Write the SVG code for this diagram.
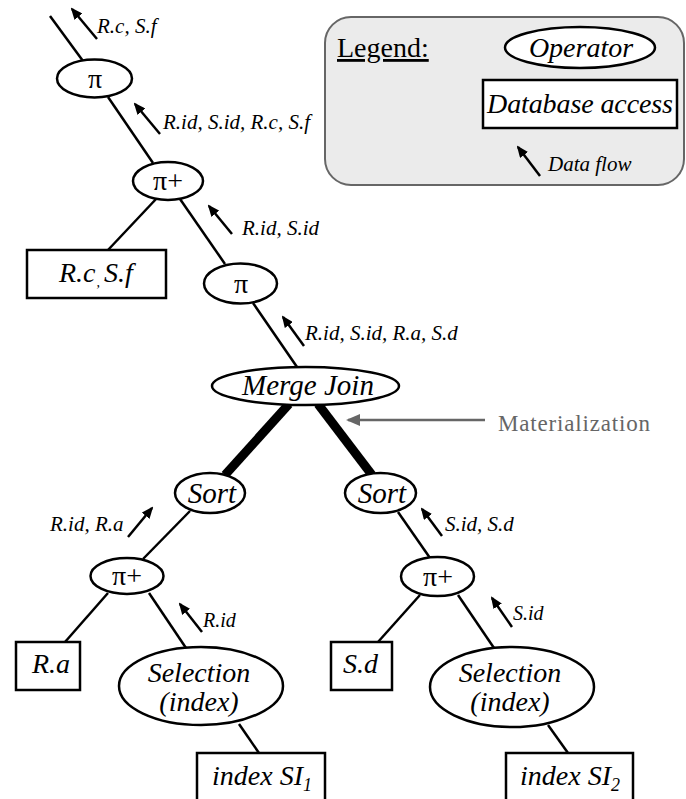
<svg xmlns="http://www.w3.org/2000/svg" width="686" height="799" viewBox="0 0 686 799" font-family="'Liberation Serif', 'DejaVu Serif', serif">
  <style>
    .op { fill: #fff; stroke: #000; stroke-width: 2.5; }
    .db { fill: #fff; stroke: #000; stroke-width: 2.5; }
    .edge { stroke: #000; stroke-width: 2.5; fill: none; }
    .mat { stroke: #000; stroke-width: 9; fill: none; }
    .flow { stroke: #000; stroke-width: 2.5; fill: none; marker-end: url(#head); }
    text { font-family: 'Liberation Serif', 'DejaVu Serif', serif; fill: #000; }
    .it { font-style: italic; }
    .big { font-size: 28px; }
    .lbl { font-size: 21px; font-style: italic; }
    .pi { font-size: 28px; }
    .mid { text-anchor: middle; }
  </style>
  <defs>
    <marker id="head" viewBox="0 0 12 10" refX="10" refY="5" markerWidth="12" markerHeight="10" markerUnits="userSpaceOnUse" orient="auto">
      <path d="M0,0 L12,5 L0,10 Z" fill="#000"/>
    </marker>
    <marker id="ghead" viewBox="0 0 14 12" refX="12" refY="6" markerWidth="14" markerHeight="12" markerUnits="userSpaceOnUse" orient="auto">
      <path d="M0,0 L14,6 L0,12 Z" fill="#666"/>
    </marker>
  </defs>

  <!-- legend panel -->
  <g id="legend">
    <rect x="325" y="17" width="359" height="168" rx="26" ry="26" fill="#ebebeb" stroke="#666" stroke-width="2"/>
    <text x="337" y="57" font-size="28" text-decoration="underline">Legend:</text>
    <ellipse class="op" cx="580" cy="47.5" rx="75" ry="20.5"/>
    <text class="it big mid" x="581" y="57">Operator</text>
    <rect class="db" x="483" y="80" width="194" height="48"/>
    <text class="it big" x="487" y="113" textLength="186" lengthAdjust="spacing">Database access</text>
    <line class="flow" x1="540" y1="176" x2="518" y2="147"/>
    <text class="it" x="548" y="171" font-size="21">Data flow</text>
  </g>

  <!-- connectors -->
  <g id="connectors">
    <line class="edge" x1="50" y1="16" x2="83" y2="61"/>
    <line class="edge" x1="108" y1="97" x2="153" y2="163"/>
    <line class="edge" x1="157" y1="198" x2="108" y2="250"/>
    <line class="edge" x1="180" y1="199" x2="225" y2="264"/>
    <line class="edge" x1="253" y1="303" x2="297" y2="367"/>
    <line class="mat" x1="289" y1="404" x2="225" y2="475"/>
    <line class="mat" x1="318" y1="404" x2="372" y2="475"/>
    <line class="edge" x1="190" y1="511" x2="143" y2="559"/>
    <line class="edge" x1="398" y1="512" x2="430" y2="558"/>
    <line class="edge" x1="108" y1="593" x2="65" y2="642"/>
    <line class="edge" x1="149" y1="593" x2="186" y2="648"/>
    <line class="edge" x1="420" y1="595" x2="378" y2="642"/>
    <line class="edge" x1="458" y1="595" x2="494" y2="648"/>
    <line class="edge" x1="239" y1="724" x2="259" y2="753"/>
    <line class="edge" x1="548" y1="725" x2="568" y2="753"/>

    <!-- data flow arrows -->
    <line class="flow" x1="97" y1="39" x2="72" y2="9"/>
    <line class="flow" x1="160" y1="134" x2="135" y2="104"/>
    <line class="flow" x1="232" y1="234" x2="209" y2="206"/>
    <line class="flow" x1="304" y1="346" x2="283" y2="317"/>
    <line class="flow" x1="442" y1="536" x2="422" y2="509"/>
    <line class="flow" x1="128" y1="537" x2="152" y2="508"/>
    <line class="flow" x1="202" y1="632" x2="180" y2="604"/>
    <line class="flow" x1="512" y1="627" x2="492" y2="598"/>

    <!-- materialization pointer -->
    <line x1="485" y1="420" x2="348" y2="420" stroke="#666" stroke-width="2.5" marker-end="url(#ghead)"/>
  </g>

  <!-- flow labels -->
  <g id="flow-labels">
    <text class="lbl" x="97" y="33">R.c, S.f</text>
    <text class="lbl" x="163" y="129">R.id, S.id, R.c, S.f</text>
    <text class="lbl" x="242" y="235">R.id, S.id</text>
    <text class="lbl" x="305" y="340">R.id, S.id, R.a, S.d</text>
    <text class="lbl" x="445" y="531">S.id, S.d</text>
    <text class="lbl" x="50" y="531">R.id, R.a</text>
    <text x="203" y="627" font-size="20" font-style="italic">R.id</text>
    <text x="513" y="620" font-size="20" font-style="italic">S.id</text>
    <text x="498" y="431" font-size="23" style="fill:#666" textLength="152" lengthAdjust="spacing">Materialization</text>
  </g>

  <g id="pi-top">
    <ellipse class="op" cx="94.5" cy="78.5" rx="37.5" ry="19"/>
    <text class="pi mid" x="95" y="88">π</text>
  </g>
  <g id="pi-plus-top">
    <ellipse class="op" cx="168" cy="181" rx="35" ry="19"/>
    <text class="pi mid" x="168" y="190">π+</text>
  </g>
  <g id="db-rc-sf">
    <rect class="db" x="27" y="250" width="139" height="48"/>
    <text class="it big" x="59" y="282">R.c<tspan font-size="14" dx="1" dy="5">,</tspan><tspan dx="4" dy="-5">S.f</tspan></text>
  </g>
  <g id="pi-mid">
    <ellipse class="op" cx="240.5" cy="283.5" rx="36.5" ry="20"/>
    <text class="pi mid" x="241" y="293">π</text>
  </g>
  <g id="merge-join">
    <ellipse class="op" cx="305.5" cy="386" rx="93.5" ry="19"/>
    <text class="it mid" x="308" y="395" font-size="29">Merge Join</text>
  </g>
  <g id="sort-left">
    <ellipse class="op" cx="210" cy="493" rx="35" ry="20"/>
    <text class="it mid" x="212" y="503" font-size="29">Sort</text>
  </g>
  <g id="sort-right">
    <ellipse class="op" cx="380.5" cy="493" rx="35.5" ry="20"/>
    <text class="it mid" x="382" y="503" font-size="29">Sort</text>
  </g>
  <g id="pi-plus-left">
    <ellipse class="op" cx="127" cy="576" rx="36.5" ry="18"/>
    <text class="pi mid" x="127" y="585">π+</text>
  </g>
  <g id="pi-plus-right">
    <ellipse class="op" cx="437.5" cy="576.5" rx="36.5" ry="19.5"/>
    <text class="pi mid" x="438" y="586">π+</text>
  </g>
  <g id="db-ra">
    <rect class="db" x="16" y="642" width="64" height="48"/>
    <text class="it big" x="32" y="673">R.a</text>
  </g>
  <g id="db-sd">
    <rect class="db" x="331" y="642" width="61" height="48"/>
    <text class="it big" x="343" y="673">S.d</text>
  </g>
  <g id="selection-left">
    <ellipse class="op" cx="201" cy="686" rx="82" ry="39"/>
    <text class="it big mid" x="199" y="682">Selection</text>
    <text class="it big mid" x="199" y="711">(index)</text>
  </g>
  <g id="selection-right">
    <ellipse class="op" cx="512" cy="687" rx="82" ry="40"/>
    <text class="it big mid" x="510" y="682">Selection</text>
    <text class="it big mid" x="510" y="711">(index)</text>
  </g>
  <g id="index-si1">
    <rect class="db" x="197" y="753" width="128" height="60"/>
    <text class="it big" x="212" y="785">index SI<tspan font-size="18" dy="6">1</tspan></text>
  </g>
  <g id="index-si2">
    <rect class="db" x="506" y="753" width="127" height="60"/>
    <text class="it big" x="520" y="785">index SI<tspan font-size="18" dy="6">2</tspan></text>
  </g>
</svg>
